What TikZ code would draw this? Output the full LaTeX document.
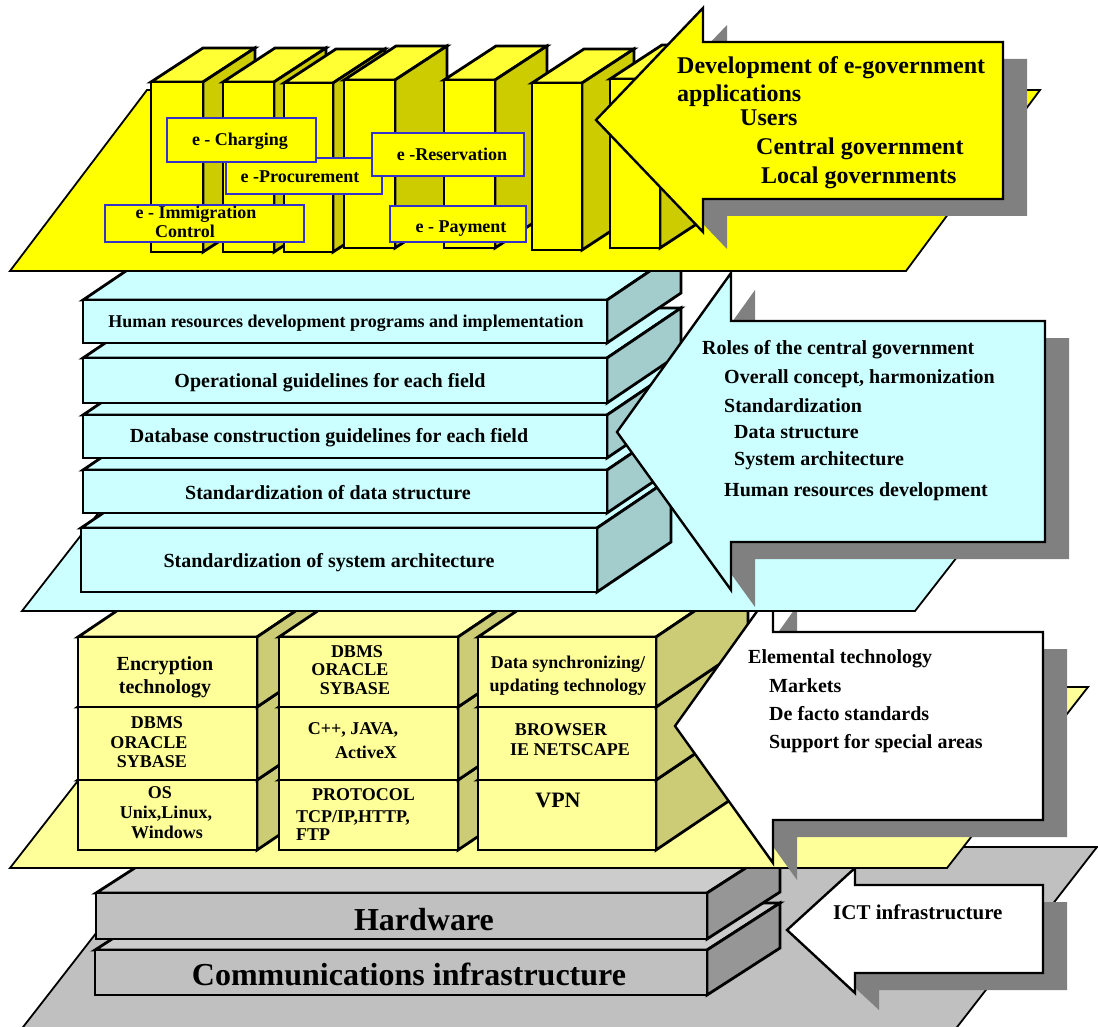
\documentclass[tikz,border=0pt]{standalone}
\usepackage{fontspec}
\setmainfont{Liberation Serif}
\definecolor{yel}{HTML}{FFFF00}
\definecolor{yelside}{HTML}{CCCC00}
\definecolor{yeltop}{HTML}{FFFF33}
\definecolor{paley}{HTML}{FFFF99}
\definecolor{paleytop}{HTML}{FFFFAA}
\definecolor{paleyside}{HTML}{CCCC77}
\definecolor{cyanc}{HTML}{CCFFFF}
\definecolor{cyanside}{HTML}{A3CCCC}
\definecolor{grayplat}{HTML}{C0C0C0}
\definecolor{grayfront}{HTML}{C0C0C0}
\definecolor{graytop}{HTML}{CCCCCC}
\definecolor{grayside}{HTML}{969696}
\definecolor{shadowc}{HTML}{808080}
\definecolor{lblblue}{HTML}{3333CC}
\newcommand{\mycuboid}[9]{%
  \filldraw[boxline,fill=#8] (#1,#2) -- ++(#5,#6) -- ++({#3-#1},0) -- (#3,#2) -- cycle;
  \filldraw[boxline,fill=#9] (#3,#2) -- ++(#5,#6) -- ++(0,{#4-#2}) -- (#3,#4) -- cycle;
  \filldraw[boxline,fill=#7] (#1,#2) rectangle (#3,#4);}
\newcommand{\mybook}[4]{%
  \mycuboid{#1}{#2}{#1+#4}{#3}{52}{-34}{yel}{yeltop}{yelside}}
\newcommand{\drawarrow}[9]{%
  \fill[shadowc,shift={(24,17)}] (#1,#2) -- (#3,#4) -- (#3,#5) -- (#6,#5) -- (#6,#7) -- (#3,#7) -- (#3,#8) -- cycle;
  \filldraw[arrowline,fill=#9] (#1,#2) -- (#3,#4) -- (#3,#5) -- (#6,#5) -- (#6,#7) -- (#3,#7) -- (#3,#8) -- cycle;}
\begin{document}
\begin{tikzpicture}[x=1pt,y=-1pt,
  boxline/.style={draw=black,line width=2.8pt,line join=miter},
  platline/.style={draw=black,line width=1.8pt},
  arrowline/.style={draw=black,line width=2.4pt,line join=miter},
  tagbox/.style={draw=lblblue,line width=2pt,fill=yel},
  f18/.style={inner sep=0pt,font=\fontsize{18}{18}\selectfont\bfseries,text height=11.9pt,text depth=0pt},
  f20/.style={inner sep=0pt,font=\fontsize{20}{20}\selectfont\bfseries,text height=13.2pt,text depth=0pt},
  f21/.style={inner sep=0pt,font=\fontsize{21}{21}\selectfont\bfseries,text height=13.9pt,text depth=0pt},
  f22/.style={inner sep=0pt,font=\fontsize{22}{22}\selectfont\bfseries,text height=14.5pt,text depth=0pt},
  f24/.style={inner sep=0pt,font=\fontsize{24}{24}\selectfont\bfseries,text height=15.8pt,text depth=0pt},
  f32/.style={inner sep=0pt,font=\fontsize{32}{32}\selectfont\bfseries,text height=21.1pt,text depth=0pt}]
\clip (0,0) rectangle (1098,1027);
\fill[white] (0,0) rectangle (1098,1027);

% ---------- ICT infrastructure layer ----------
\filldraw[platline,fill=grayplat] (163,847) -- (1097,847) -- (947,1040) -- (13,1040) -- cycle;
\mycuboid{95}{950}{707}{995}{73}{-47}{grayfront}{graytop}{grayside}
\mycuboid{96}{893}{707}{939}{73}{-47}{grayfront}{graytop}{grayside}
\node[f32] (hw) at (424,920) {Hardware};
\node[f32] (comm) at (409,975) {Communications infrastructure};
\drawarrow{787}{930}{855}{868}{885}{1043}{973}{993}{white}
\node[f21,anchor=west] (ict) at (833,913) {ICT infrastructure};

% ---------- Elemental technology layer ----------
\filldraw[platline,fill=paley] (151,687) -- (1088,687) -- (947,868) -- (10,868) -- cycle;
\foreach \xa/\xb in {78/257,279/458,478/656}{
  \mycuboid{\xa}{780}{\xb}{850}{92}{-62}{paley}{paleytop}{paleyside}
  \mycuboid{\xa}{707}{\xb}{780}{92}{-62}{paley}{paleytop}{paleyside}
  \mycuboid{\xa}{637}{\xb}{707}{92}{-62}{paley}{paleytop}{paleyside}
}
\node[f20] (c1a) at (165,664) {Encryption};
\node[f20] (c1b) at (165,687) {technology};
\node[f18] (c1c) at (157,723) {DBMS};
\node[f18] (c1d) at (149,743) {ORACLE};
\node[f18] (c1e) at (152,762) {SYBASE};
\node[f18] (c1f) at (160,793) {OS};
\node[f18] (c1g) at (166,813) {Unix,Linux,};
\node[f18] (c1h) at (167,833) {Windows};
\node[f18] (c2a) at (357,652) {DBMS};
\node[f18] (c2b) at (350,670) {ORACLE};
\node[f18] (c2c) at (355,689) {SYBASE};
\node[f18] (c2d) at (353,729) {C++, JAVA,};
\node[f18] (c2e) at (366,753) {ActiveX};
\node[f18,anchor=west] (c2f) at (312,795) {PROTOCOL};
\node[f18,anchor=west] (c2g) at (296,817) {TCP/IP,HTTP,};
\node[f18,anchor=west] (c2h) at (296,835) {FTP};
\node[f18] (c3a) at (568,663) {Data synchronizing/};
\node[f18] (c3b) at (568,686) {updating technology};
\node[f18] (c3c) at (561,730) {BROWSER};
\node[f18] (c3d) at (570,750) {IE NETSCAPE};
\node[f22] (c3e) at (558,800) {VPN};
\drawarrow{675}{726}{773}{589}{632}{1043}{820}{863}{white}
\node[f20,anchor=west] (el1) at (748,657) {Elemental technology};
\node[f20,anchor=west] (el2) at (769,686) {Markets};
\node[f20,anchor=west] (el3) at (769,714) {De facto standards};
\node[f20,anchor=west] (el4) at (769,742) {Support for special areas};

% ---------- Roles of central government layer ----------
\filldraw[platline,fill=cyanc] (163,430) -- (1056,430) -- (915,611) -- (22,611) -- cycle;
\mycuboid{81}{528}{597}{592}{74}{-50}{cyanc}{cyanc}{cyanside}
\mycuboid{83}{470}{607}{513}{74}{-50}{cyanc}{cyanc}{cyanside}
\mycuboid{83}{415}{607}{458}{74}{-50}{cyanc}{cyanc}{cyanside}
\mycuboid{83}{358}{607}{403}{74}{-50}{cyanc}{cyanc}{cyanside}
\mycuboid{83}{300}{607}{343}{74}{-50}{cyanc}{cyanc}{cyanside}
\node[f18] (s1) at (346,322) {Human resources development programs and implementation};
\node[f20] (s2) at (330,381) {Operational guidelines for each field};
\node[f20] (s3) at (329,436) {Database construction guidelines for each field};
\node[f20] (s4) at (328,493) {Standardization of data structure};
\node[f20] (s5) at (329,561) {Standardization of system architecture};
\drawarrow{617}{432}{731}{273}{321}{1045}{542}{590}{cyanc}
\node[f20,anchor=west] (r1) at (702,348) {Roles of the central government};
\node[f20,anchor=west] (r2) at (724,377) {Overall concept, harmonization};
\node[f20,anchor=west] (r3) at (724,406) {Standardization};
\node[f20,anchor=west] (r4) at (734,432) {Data structure};
\node[f20,anchor=west] (r5) at (734,459) {System architecture};
\node[f20,anchor=west] (r6) at (724,490) {Human resources development};

% ---------- e-government applications layer ----------
\filldraw[platline,fill=yel] (147,90) -- (1040,90) -- (906,271) -- (10,271) -- cycle;
\mybook{151}{82}{252}{52}
\mybook{223}{82}{252}{51}
\mybook{284}{83}{252}{49}
\mybook{344}{80}{248}{51}
\mybook{444}{80}{248}{51}
\mybook{532}{83}{250}{50}
\mybook{610}{79}{248}{50}
\filldraw[tagbox] (105,205) rectangle (304,242);
\node[f18] (t1a) at (196,213) {e - Immigration};
\node[f18] (t1b) at (185,232) {Control};
\filldraw[tagbox] (226,158) rectangle (382,194);
\node[f18] (t2) at (300,177) {e -Procurement};
\filldraw[tagbox] (167,118) rectangle (316,162);
\node[f18] (t3) at (240,140) {e - Charging};
\filldraw[tagbox] (372,133) rectangle (524,176);
\node[f18] (t4) at (452,155) {e -Reservation};
\filldraw[tagbox] (390,206) rectangle (526,242);
\node[f18] (t5) at (461,227) {e - Payment};
\drawarrow{596}{120}{703}{8}{42}{1003}{199}{232}{yel}
\node[f24,anchor=west] (d1) at (677,66) {Development of e-government};
\node[f24,anchor=west] (d2) at (677,94) {applications};
\node[f24,anchor=west] (d3) at (740,118) {Users};
\node[f24,anchor=west] (d4) at (756,147) {Central government};
\node[f24,anchor=west] (d5) at (761,176) {Local governments};
\end{tikzpicture}
\end{document}
